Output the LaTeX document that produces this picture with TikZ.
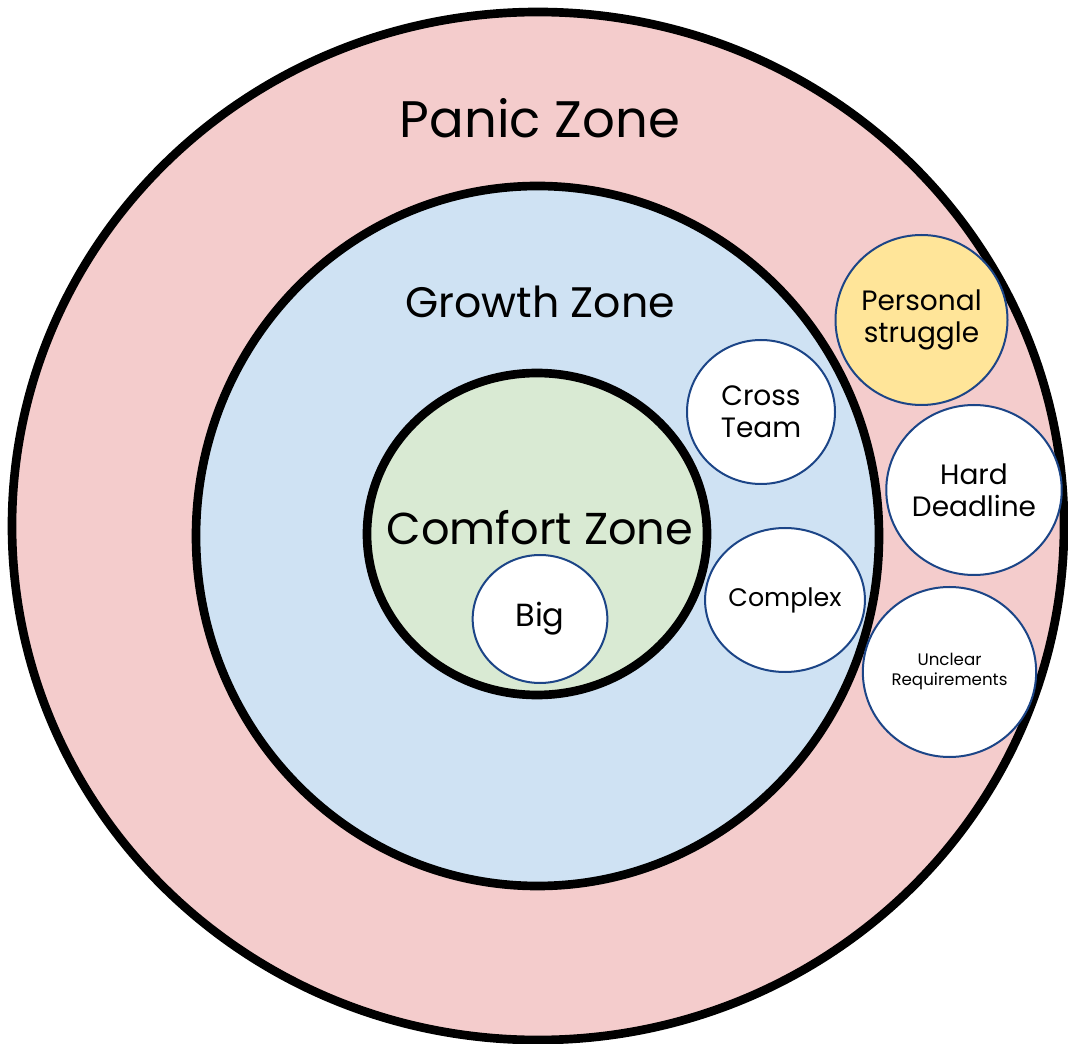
\documentclass[tikz,border=0pt]{standalone}
\usepackage{fontspec}
\setmainfont{Poppins}
\usetikzlibrary{shapes.geometric}

\definecolor{panicred}{HTML}{F4CCCC}
\definecolor{growthblue}{HTML}{CFE2F3}
\definecolor{comfortgreen}{HTML}{D9EAD3}
\definecolor{struggleyellow}{HTML}{FFE599}
\definecolor{ringblue}{HTML}{1C4587}

\def\panicring{(538,526) ellipse (526 and 514)}
\def\growthring{(537.5,536) ellipse (341.5 and 350)}
\def\comfortring{(537,534) ellipse (170 and 161)}

\tikzset{
	zone/.style={line width=6.5pt},
	worry/.style={ellipse, draw=ringblue, line width=1.5pt, fill=white,
		inner sep=0pt, align=center, font=\fontsize{21}{24}\selectfont},
}

\begin{document}
\begin{tikzpicture}[x=0.75pt, y=-0.75pt]
	\useasboundingbox (0,0) rectangle (1068,1044);
	
	\draw[zone, fill=panicred] \panicring;
	\draw[zone, fill=growthblue] \growthring;
	\draw[zone, fill=comfortgreen] \comfortring;
	\node (panic) at (540, 118) {\fontsize{38.5}{44}\selectfont Panic Zone};
	\node (growth) at (540, 302) {\fontsize{32}{38}\selectfont Growth Zone};
	\node (comfort) at (540, 528) {\fontsize{33.5}{40}\selectfont Comfort Zone};
	
	\node[worry, minimum width=101pt, minimum height=96pt, font=\fontsize{24}{26}\selectfont] (big) at (540, 619) {Big};
	\node[worry, minimum width=111pt, minimum height=108pt] (crossteam) at (761, 412) {Cross\\Team};
	\node[worry, minimum width=117pt, minimum height=108pt, font=\fontsize{19}{22}\selectfont] (complex) at (785, 600) {Complex};
	\node[worry, fill=struggleyellow, minimum width=129pt, minimum height=127.5pt] (struggle) at (921.5, 320) {Personal\\struggle};
	\node[worry, minimum width=129pt, minimum height=127.5pt] (deadline) at (974, 490) {Hard\\Deadline};
	\node[worry, minimum width=130pt, minimum height=127.5pt, font=\fontsize{12.5}{15}\selectfont] (unclear) at (949.5, 672) {Unclear\\Requirements};
	
\end{tikzpicture}
\end{document}
